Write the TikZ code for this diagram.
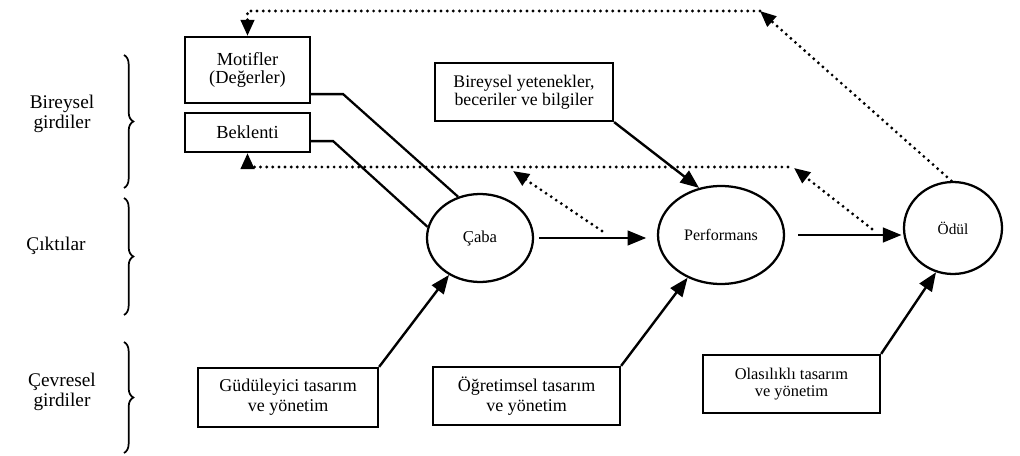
\documentclass[tikz,border=0pt]{standalone}
\usepackage{fontspec}
\setmainfont{Liberation Serif}
\usetikzlibrary{arrows.meta,shapes.geometric,decorations.pathreplacing,calc}
\begin{document}
\begin{tikzpicture}[x=0.75pt,y=-0.75pt,
 box/.style={draw, line width=1.7pt, inner sep=0pt, align=center},
 oval/.style={draw, ellipse, line width=1.7pt, inner sep=0pt},
 arr/.style={line width=1.8pt, -{Triangle[length=14pt,width=11pt]}},
 link/.style={line width=1.7pt},
 dot/.style={line width=2.4pt, line cap=round, dash pattern=on 0pt off 4.6pt},
 darr/.style={-{Triangle[length=12pt,width=10pt]}},
 brc/.style={decorate, decoration={brace, amplitude=7pt}, line width=1.3pt},
 lbl/.style={align=center, font=\fontsize{14.5}{15}\selectfont}
]
\fill[white] (0,0) rectangle (1020,456);
\useasboundingbox (0,0) rectangle (1020,456);

% left labels and braces
\node[lbl] (l1) at (62,114) {Bireysel\\girdiler};
\node[lbl] (l2) at (56,246) {Çıktılar};
\node[lbl] (l3) at (62,392) {Çevresel\\girdiler};
\draw[brc] (124,55) -- (124,188);
\draw[brc] (124,198) -- (124,315);
\draw[brc] (124,342) -- (124,453);

% boxes
\node[box, minimum width=93.75pt, minimum height=49.5pt, font=\fontsize{13.8}{14}\selectfont] (mot) at (247.5,70) {Motifler\\(Değerler)};
\node[box, minimum width=93.75pt, minimum height=29.25pt, font=\fontsize{13.8}{14}\selectfont] (bek) at (247.5,132.5) {Beklenti};
\node[box, minimum width=133.5pt, minimum height=43.5pt, font=\fontsize{13.3}{13.5}\selectfont] (bir) at (524,92) {Bireysel yetenekler,\\beceriler ve bilgiler};
\node[box, minimum width=135pt, minimum height=44.25pt, font=\fontsize{13.5}{15}\selectfont] (gud) at (288,397.5) {Güdüleyici tasarım\\ve yönetim};
\node[box, minimum width=140.25pt, minimum height=43.5pt, font=\fontsize{13.5}{15}\selectfont] (ogr) at (526.5,396) {Öğretimsel tasarım\\ve yönetim};
\node[box, minimum width=132.75pt, minimum height=43.5pt, font=\fontsize{12.3}{12.5}\selectfont] (ola) at (791.5,384) {Olasılıklı tasarım\\ve yönetim};

% ellipses
\node[oval, minimum width=79.5pt, minimum height=66pt, font=\fontsize{12.5}{13}\selectfont] (caba) at (480,238) {Çaba};
\node[oval, minimum width=94.5pt, minimum height=73.5pt, font=\fontsize{12}{13}\selectfont] (perf) at (721,235) {Performans};
\node[oval, minimum width=73.5pt, minimum height=69pt, font=\fontsize{11.5}{12}\selectfont] (odul) at (953,228) {Ödül};

% solid connectors
\draw[link] ([yshift=7.5pt]mot.south east) -- ++(32,0) -- (caba.118);
\draw[link] ([yshift=9pt]bek.south east) -- ++(22,0) -- (caba.168);
\draw[arr, shorten <=4pt, shorten >=8pt] (caba.east) -- (caba.east -| perf.west);
\draw[arr, shorten <=10pt, shorten >=1pt] (perf.east) -- (perf.east -| odul.west);
\draw[arr] (bir.south east) -- (perf.115);
\draw[arr] (gud.north east) -- (caba.230);
\draw[arr] (ogr.north east) -- (perf.232);
\draw[arr] (ola.north east) -- (odul.249);

% dotted feedback connectors
\coordinate (tc) at (760,11);
\coordinate (lc) at (788,167);
\coordinate (d1s) at (602,231);
\coordinate (d1e) at (513,171);
\coordinate (d2s) at (872,229);
\coordinate (d2e) at (794,168);
\draw[dot, darr] (odul.92) -- (tc);
\draw[dot, darr] (tc) -| (mot.north);
\draw[dot, darr] (lc) -| (bek.south);
\draw[dot, darr] (d1s) -- (d1e);
\draw[dot, darr] (d2s) -- (d2e);
\end{tikzpicture}
\end{document}
